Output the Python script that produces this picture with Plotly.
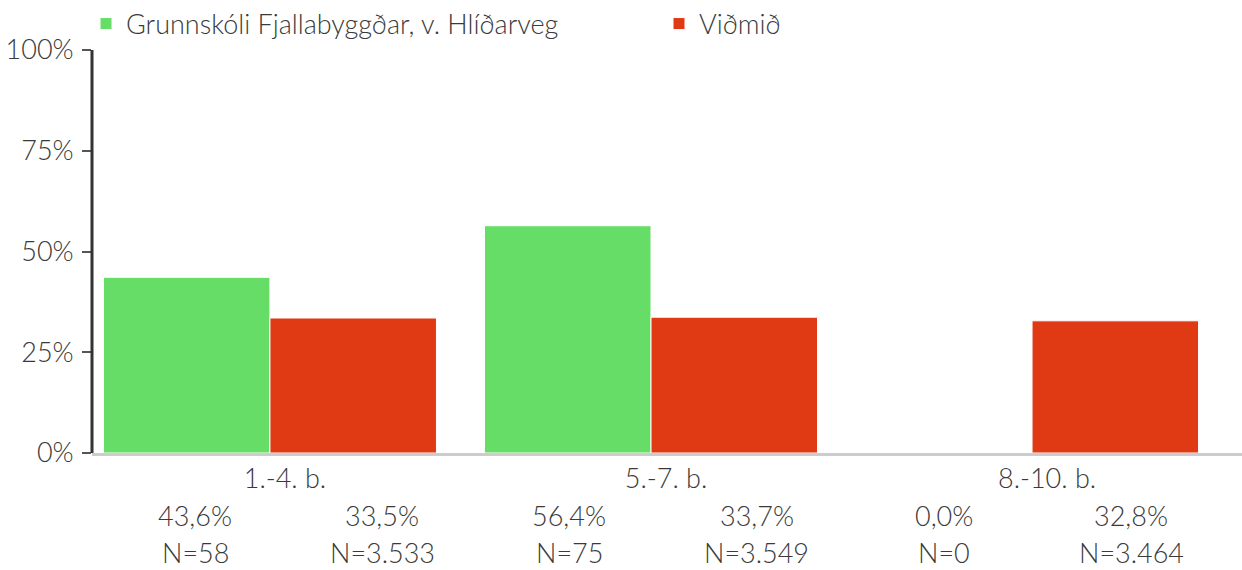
import plotly.graph_objects as go

categories = ["1.-4. b.", "5.-7. b.", "8.-10. b."]
series_names = ["Grunnskóli Fjallabyggðar, v. Hlíðarveg", "Viðmið"]
school_values = [43.6, 56.4, 0.0]
benchmark_values = [33.5, 33.7, 32.8]
school_n = ["N=58", "N=75", "N=0"]
benchmark_n = ["N=3.533", "N=3.549", "N=3.464"]
y_ticks = [0, 25, 50, 75, 100]
y_tick_labels = ["0%", "25%", "50%", "75%", "100%"]

GREEN = "#66dd66"
RED = "#df3a14"
TEXT = "#3a3a3a"
FONT = "Lato"
FS = 27
FW = 300

W, H = 1242, 570
ML, MR, MT, MB = 92, 0, 50, 117
PW = W - ML - MR
PH = H - MT - MB

fig = go.Figure()
fig.add_trace(go.Bar(x=categories, y=[v / 100 for v in school_values], name=series_names[0],
                     legend="legend",
                     marker=dict(color=GREEN, line=dict(color="white", width=1))))
fig.add_trace(go.Bar(x=categories, y=[v / 100 for v in benchmark_values], name=series_names[1],
                     legend="legend2",
                     marker=dict(color=RED, line=dict(color="white", width=1))))


def fmt(v):
    return f"{v:.1f}".replace(".", ",") + "%"


font = dict(size=FS, color=TEXT, family=FONT, weight=FW)

# table below the chart: 6 evenly spaced columns
col_labels = []
for i in range(len(categories)):
    col_labels.append((fmt(school_values[i]), school_n[i]))
    col_labels.append((fmt(benchmark_values[i]), benchmark_n[i]))

first_px, step_px = 195, 187.2
for j, (pct, n) in enumerate(col_labels):
    xp = (first_px + j * step_px - ML) / PW
    fig.add_annotation(x=xp, xref="paper", y=-(515 - (MT + PH)) / PH, yref="paper", text=pct,
                       showarrow=False, font=font, xanchor="center", yanchor="middle")
    fig.add_annotation(x=xp, xref="paper", y=-(552 - (MT + PH)) / PH, yref="paper", text=n,
                       showarrow=False, font=font, xanchor="center", yanchor="middle")

# y-axis line (dark)
fig.add_shape(type="line", xref="paper", yref="paper", x0=0, x1=0, y0=0, y1=1,
              line=dict(color="#333333", width=3))

leg_common = dict(orientation="h", xref="container", yref="container",
                  xanchor="left", y=1 - 24 / H, yanchor="middle",
                  font=font, itemclick=False, bgcolor="rgba(0,0,0,0)")

fig.update_layout(
    width=W, height=H,
    margin=dict(l=ML, r=MR, t=MT, b=MB, autoexpand=False),
    paper_bgcolor="white", plot_bgcolor="white",
    barmode="group", bargap=0.126, bargroupgap=0,
    font=font,
    showlegend=True,
    legend=dict(x=(126 - 40) / W, **leg_common),
    legend2=dict(x=(699 - 40) / W, **leg_common),
    xaxis=dict(range=[-0.467, 2.551], showgrid=False, zeroline=False,
               showline=True, linecolor="#cccccc", linewidth=3,
               ticks="", tickfont=font,
               ticklabelshift=15, ticklabelstandoff=0, fixedrange=True),
    yaxis=dict(range=[0, 1], tickvals=[t / 100 for t in y_ticks], ticktext=y_tick_labels,
               showgrid=False, zeroline=False, showline=False,
               ticks="outside", ticklen=9, tickwidth=1.5, tickcolor="#555555",
               ticklabelstandoff=3,
               tickfont=font, fixedrange=True),
)

fig.write_html("out.html", config={"displayModeBar": False},
               post_script="document.body.style.margin='0';document.body.style.padding='0';")
